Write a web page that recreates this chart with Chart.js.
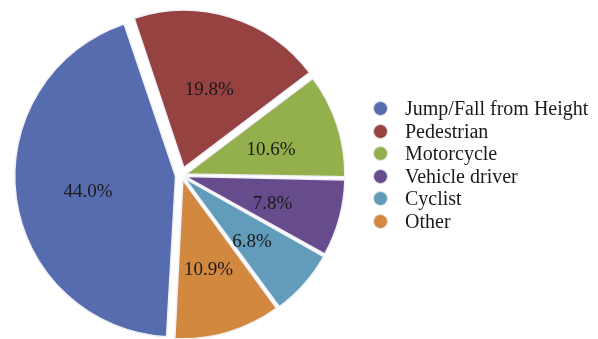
<!DOCTYPE html>
<html>
<head>
<meta charset="utf-8">
<script src="https://cdn.jsdelivr.net/npm/chart.js@4"></script>
<style>
  html, body { margin: 0; padding: 0; background: #fff; }
  .wrap { position: relative; width: 598px; height: 339px; overflow: hidden; }
  #pie { position: absolute; left: 0; top: 0; }
  .legend {
    position: absolute; left: 373px; top: 97.5px;
    font-family: "Liberation Serif", "Times New Roman", serif;
    font-size: 20px; color: #1a1a1a;
  }
  .legend .row { display: flex; align-items: center; height: 22.5px; white-space: nowrap; }
  .legend .dot {
    width: 15px; height: 15px; border-radius: 50%;
    box-sizing: border-box; border: 1px solid #e4e4ec; margin-right: 17px;
  }
</style>
</head>
<body>
<div class="wrap">
  <canvas id="pie" width="598" height="339"></canvas>
  <div class="legend" id="legend"></div>
</div>
<script>
// categories and values (percent)
const categories = ["Jump/Fall from Height", "Pedestrian", "Motorcycle", "Vehicle driver", "Cyclist", "Other"];
const values = [44.0, 19.8, 10.6, 7.8, 6.8, 10.9];
const valueLabels = values.map(v => v.toFixed(1) + "%");

const colors = ["#566cae", "#954241", "#94b04c", "#674c8d", "#629cbb", "#d2883f"];
// chart.js v4 divides arc offset by 4 (plus a fix for thin slices)
const sliceOffsets = [24, 33, 19, 17, 17, 19];

// build the legend from the same arrays
const legend = document.getElementById("legend");
categories.forEach((name, i) => {
    const row = document.createElement("div");
    row.className = "row";
    const dot = document.createElement("span");
    dot.className = "dot";
    dot.style.background = colors[i];
    const txt = document.createElement("span");
    txt.textContent = name;
    row.appendChild(dot);
    row.appendChild(txt);
    legend.appendChild(row);
});

// percentage labels inside the slices
const sliceLabels = {
    id: "sliceLabels",
    afterDatasetsDraw(chart) {
        const ctx = chart.ctx;
        const meta = chart.getDatasetMeta(0);
        ctx.save();
        ctx.font = "19px 'Liberation Serif', 'Times New Roman', serif";
        ctx.fillStyle = "#1a1a1a";
        ctx.textAlign = "center";
        ctx.textBaseline = "middle";
        meta.data.forEach((arc, i) => {
            const mid = (arc.startAngle + arc.endAngle) / 2;
            const d = arc.outerRadius * 0.6;
            ctx.fillText(valueLabels[i], arc.x + Math.cos(mid) * d, arc.y + Math.sin(mid) * d + 4);
        });
        ctx.restore();
    }
};

new Chart(document.getElementById("pie").getContext("2d"), {
    type: "pie",
    data: {
        labels: categories,
        datasets: [{
            data: values,
            backgroundColor: colors,
            borderColor: "#f0f0f8",
            borderWidth: 1.5,
            offset: sliceOffsets
        }]
    },
    options: {
        responsive: false,
        animation: false,
        rotation: 183,
        radius: 157,
        layout: { padding: { left: 0, right: 235, top: 12, bottom: 0 } },
        plugins: {
            legend: { display: false },
            tooltip: { enabled: false }
        }
    },
    plugins: [sliceLabels]
});
</script>
</body>
</html>
